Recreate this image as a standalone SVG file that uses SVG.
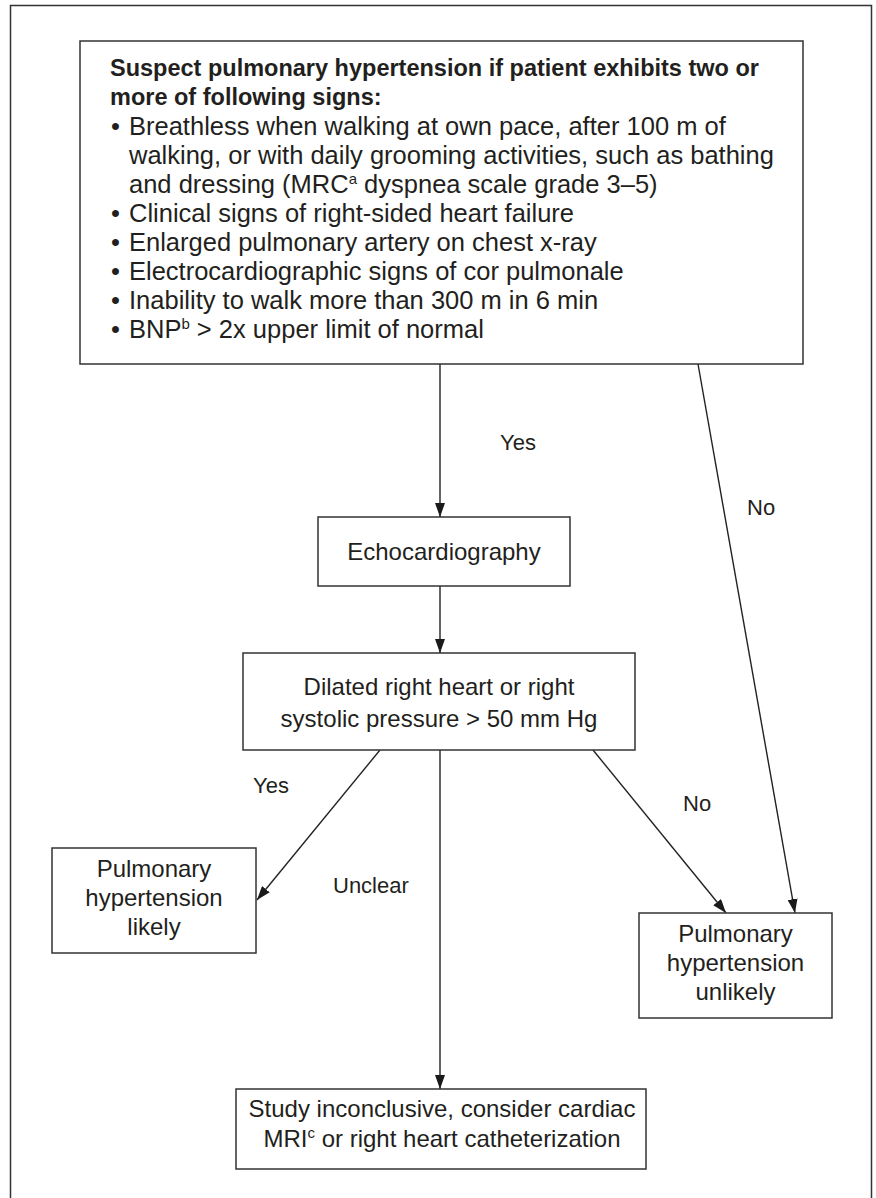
<svg xmlns="http://www.w3.org/2000/svg" width="876" height="1198" viewBox="0 0 876 1198">
<defs>
<marker id="ah" markerUnits="userSpaceOnUse" markerWidth="14" markerHeight="10" refX="14" refY="5" orient="auto">
<path d="M0,0 L14,5 L0,10 z" fill="#1a1a1a"/>
</marker>
<style>
.box{fill:#fff;stroke:#333;stroke-width:1.5}
.t{font-family:"Liberation Sans",Arial,sans-serif;fill:#231f20}
.body{font-size:25.5px}
.title{font-size:23.5px;font-weight:bold}
.node{font-size:24px;text-anchor:middle}
.lab{font-size:22px}
.conn{stroke:#222;stroke-width:1.4;fill:none;marker-end:url(#ah)}
.sup{font-size:15px}
</style>
</defs>
<rect width="876" height="1198" fill="#fff"/>
<path d="M10.5,1198 V5.5 H871.5 V1198" fill="none" stroke="#333" stroke-width="1.5"/>

<g id="connectors">
<path class="conn" d="M440,364 V517"/>
<path class="conn" d="M440,586 V653"/>
<path class="conn" d="M380,750 L257,900"/>
<path class="conn" d="M440,750 V1089"/>
<path class="conn" d="M593,750 L726,913"/>
<path class="conn" d="M698,364 L795,913"/>
<text class="t lab" x="500" y="450">Yes</text>
<text class="t lab" x="747" y="515">No</text>
<text class="t lab" x="253" y="793">Yes</text>
<text class="t lab" x="333" y="893">Unclear</text>
<text class="t lab" x="683" y="811">No</text>
</g>

<g id="n-suspect">
<rect class="box" x="80" y="41" width="723" height="323"/>
<text class="t title" x="110" y="76">Suspect pulmonary hypertension if patient exhibits two or</text>
<text class="t title" x="110" y="105">more of following signs:</text>
<text class="t body" x="111" y="135">•</text>
<text class="t body" x="129" y="135">Breathless when walking at own pace, after 100 m of</text>
<text class="t body" x="129" y="164">walking, or with daily grooming activities, such as bathing</text>
<text class="t body" x="129" y="193">and dressing (MRC<tspan class="sup" dy="-9">a</tspan><tspan dy="9"> dyspnea scale grade 3–5)</tspan></text>
<text class="t body" x="111" y="222">•</text>
<text class="t body" x="129" y="222">Clinical signs of right-sided heart failure</text>
<text class="t body" x="111" y="251">•</text>
<text class="t body" x="129" y="251">Enlarged pulmonary artery on chest x-ray</text>
<text class="t body" x="111" y="280">•</text>
<text class="t body" x="129" y="280">Electrocardiographic signs of cor pulmonale</text>
<text class="t body" x="111" y="309">•</text>
<text class="t body" x="129" y="309">Inability to walk more than 300 m in 6 min</text>
<text class="t body" x="111" y="338">•</text>
<text class="t body" x="129" y="338">BNP<tspan class="sup" dy="-9">b</tspan><tspan dy="9"> &gt; 2x upper limit of normal</tspan></text>
</g>

<g id="n-echo">
<rect class="box" x="318" y="517" width="252" height="69"/>
<text class="t node" x="444" y="560">Echocardiography</text>
</g>

<g id="n-dilated">
<rect class="box" x="243" y="653" width="392" height="97"/>
<text class="t node" x="439" y="695">Dilated right heart or right</text>
<text class="t node" x="439" y="727">systolic pressure &gt; 50 mm Hg</text>
</g>

<g id="n-likely">
<rect class="box" x="52" y="848" width="204" height="105"/>
<text class="t node" x="154" y="877">Pulmonary</text>
<text class="t node" x="154" y="906">hypertension</text>
<text class="t node" x="154" y="935">likely</text>
</g>

<g id="n-unlikely">
<rect class="box" x="639" y="913" width="193" height="105"/>
<text class="t node" x="735.5" y="942">Pulmonary</text>
<text class="t node" x="735.5" y="971">hypertension</text>
<text class="t node" x="735.5" y="1000">unlikely</text>
</g>

<g id="n-inconclusive">
<rect class="box" x="236" y="1089" width="410" height="80"/>
<text class="t node" x="442" y="1117">Study inconclusive, consider cardiac</text>
<text class="t node" x="442" y="1147">MRI<tspan class="sup" dy="-9">c</tspan><tspan dy="9"> or right heart catheterization</tspan></text>
</g>
</svg>
